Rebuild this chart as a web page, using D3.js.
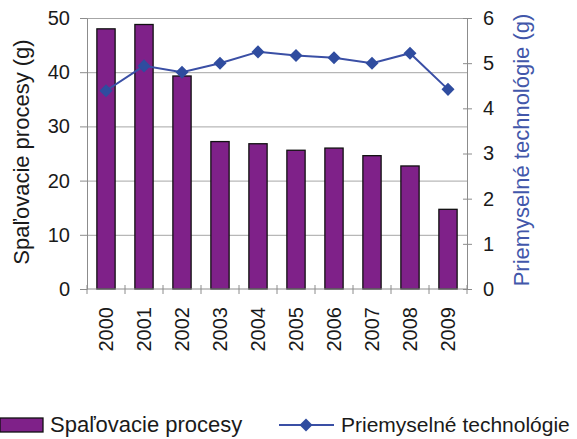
<!DOCTYPE html>
<html>
<head>
<meta charset="utf-8">
<script src="https://cdn.jsdelivr.net/npm/d3@7"></script>
<style>
body { margin: 0; background: #fff; }
text { font-family: "Liberation Sans", Arial, sans-serif; }
</style>
</head>
<body>
<div id="chart"></div>
<script>
// data
var years = ['2000', '2001', '2002', '2003', '2004', '2005', '2006', '2007', '2008', '2009'];
var spalovacie = [48.0, 48.8, 39.3, 27.2, 26.8, 25.6, 26.0, 24.6, 22.7, 14.7];
var priemyselne = [4.39, 4.94, 4.80, 5.00, 5.25, 5.17, 5.12, 5.00, 5.22, 4.42];
var leftTicks = [0, 10, 20, 30, 40, 50];
var rightTicks = [0, 1, 2, 3, 4, 5, 6];
var seriesNames = ['Spaľovacie procesy', 'Priemyselné technológie'];

var width = 577, height = 439;
var plot = { left: 87, right: 467, top: 18, bottom: 289 };
var purple = '#7f2189', blue = '#3a4fa5', axisGray = '#8c8c8c';

var svg = d3.select('#chart').append('svg').attr('width', width).attr('height', height);

var x = d3.scaleBand().domain(years).range([plot.left, plot.right]).paddingInner(0.52).paddingOuter(0.26);
var y = d3.scaleLinear().domain([0, 50]).range([plot.bottom, plot.top]);
var y2 = d3.scaleLinear().domain([0, 6]).range([plot.bottom, plot.top]);

// gridlines
svg.append('g').attr('transform', 'translate(' + plot.left + ',0)')
    .call(d3.axisLeft(y).tickValues(leftTicks.slice(1)).tickSize(-(plot.right - plot.left)).tickFormat(''))
    .call(function(g) { g.select('.domain').remove(); })
    .selectAll('line').attr('stroke', '#a6a6a6').attr('stroke-width', 1);

// bars
svg.append('g').selectAll('rect').data(spalovacie).enter().append('rect')
    .attr('x', function(d, i) { return x(years[i]); })
    .attr('y', function(d) { return y(d); })
    .attr('width', x.bandwidth())
    .attr('height', function(d) { return y(0) - y(d); })
    .attr('fill', purple).attr('stroke', '#111').attr('stroke-width', 1.3);

// left axis
var leftAxis = svg.append('g').attr('transform', 'translate(' + plot.left + ',0)')
    .call(d3.axisLeft(y).tickValues(leftTicks).tickSize(7).tickSizeOuter(0).tickPadding(10).tickFormat(d3.format('d')));
leftAxis.select('.domain').attr('stroke', axisGray);
leftAxis.selectAll('line').attr('stroke', axisGray);
leftAxis.selectAll('text').attr('font-size', 20).attr('fill', '#1a1a1a').attr('font-family', '"Liberation Sans", Arial, sans-serif');

// right axis
var rightAxis = svg.append('g').attr('transform', 'translate(' + plot.right + ',0)')
    .call(d3.axisRight(y2).tickValues(rightTicks).tickSize(5).tickSizeOuter(0).tickPadding(11).tickFormat(d3.format('d')));
rightAxis.select('.domain').attr('stroke', axisGray);
rightAxis.selectAll('line').attr('stroke', axisGray).attr('x1', -4);
rightAxis.selectAll('text').attr('font-size', 20).attr('fill', '#1a1a1a').attr('font-family', '"Liberation Sans", Arial, sans-serif');

// bottom axis: line, category boundary ticks, rotated labels
svg.append('line').attr('x1', plot.left).attr('x2', plot.right).attr('y1', y(0)).attr('y2', y(0)).attr('stroke', axisGray);
var bounds = d3.range(years.length + 1).map(function(i) { return plot.left + i * x.step(); });
svg.append('g').selectAll('line').data(bounds).enter().append('line')
    .attr('x1', function(d) { return d; }).attr('x2', function(d) { return d; })
    .attr('y1', y(0) - 4).attr('y2', y(0) + 5).attr('stroke', axisGray);
svg.append('g').selectAll('text').data(years).enter().append('text')
    .attr('transform', function(d) { return 'translate(' + (x(d) + x.bandwidth() / 2) + ',' + (y(0) + 18) + ') rotate(-90)'; })
    .attr('text-anchor', 'end').attr('dy', '0.35em')
    .attr('font-size', 20).attr('fill', '#1a1a1a')
    .text(function(d) { return d; });

// line series
var line = d3.line()
    .x(function(d, i) { return x(years[i]) + x.bandwidth() / 2; })
    .y(function(d) { return y2(d); });
svg.append('path').datum(priemyselne).attr('d', line)
    .attr('fill', 'none').attr('stroke', blue).attr('stroke-width', 2);
var diamond = d3.symbol().type(d3.symbolSquare).size(85);
svg.append('g').selectAll('path').data(priemyselne).enter().append('path')
    .attr('d', diamond)
    .attr('transform', function(d, i) { return 'translate(' + (x(years[i]) + x.bandwidth() / 2) + ',' + y2(d) + ') rotate(45)'; })
    .attr('fill', '#2f4c9f');

// axis titles
svg.append('text').attr('transform', 'translate(29,152) rotate(-90)')
    .attr('text-anchor', 'middle').attr('font-size', 22).attr('fill', '#1a1a1a')
    .text('Spaľovacie procesy (g)');
svg.append('text').attr('transform', 'translate(529,150) rotate(-90)')
    .attr('text-anchor', 'middle').attr('font-size', 22).attr('fill', '#4257aa')
    .text('Priemyselné technológie (g)');

// legend
var legend = svg.append('g');
legend.append('rect').attr('x', 0).attr('y', 418).attr('width', 43).attr('height', 14)
    .attr('fill', purple).attr('stroke', '#111').attr('stroke-width', 1.3);
legend.append('text').attr('x', 50).attr('y', 432).attr('font-size', 22).attr('fill', '#1a1a1a').text(seriesNames[0]);
legend.append('line').attr('x1', 279).attr('x2', 334).attr('y1', 425).attr('y2', 425)
    .attr('stroke', blue).attr('stroke-width', 2);
legend.append('path').attr('d', diamond).attr('transform', 'translate(306,425) rotate(45)').attr('fill', '#2f4c9f');
legend.append('text').attr('x', 341).attr('y', 432).attr('font-size', 21).attr('fill', '#1a1a1a').text(seriesNames[1]);
</script>
</body>
</html>
